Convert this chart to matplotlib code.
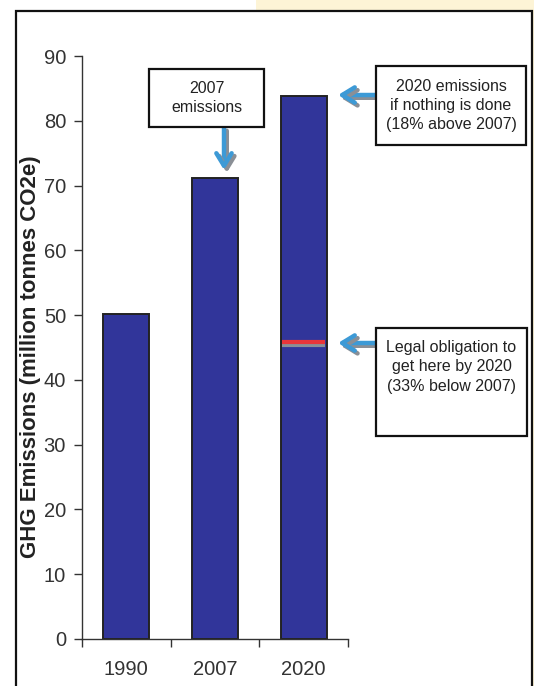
import matplotlib
matplotlib.use("Agg")
import matplotlib.pyplot as plt
import matplotlib.patheffects as pe
from matplotlib.patches import Rectangle

plt.rcParams['font.family'] = ['Liberation Sans', 'DejaVu Sans']

# Emissions data (million tonnes CO2e)
years = ["1990", "2007", "2020"]
emissions = [50.1, 71.1, 83.8]
legal_target = 45.8
yticks = [0, 10, 20, 30, 40, 50, 60, 70, 80, 90]

bar_color = "#31359a"
arrow_color = "#3d9ad6"
shadow_color = "#8a8f96"
text_color = "#222222"

fig = plt.figure(figsize=(5.34, 6.86), dpi=100)
W, H = 534, 686

def fx(px):
    return px / W

def fy(py):
    return 1 - py / H

# Background panels and outer frame
fig.patches.append(Rectangle((fx(256), fy(11)), fx(278), 11 / H, transform=fig.transFigure,
                             facecolor="#fdf4d6", edgecolor="none", zorder=-2))
fig.patches.append(Rectangle((fx(532), 0), fx(2), fy(0), transform=fig.transFigure,
                             facecolor="#fdf4d6", edgecolor="none", zorder=-2))
fig.patches.append(Rectangle((fx(16), fy(690)), fx(516), 679 / H, transform=fig.transFigure,
                             facecolor="white", edgecolor="#111111", linewidth=1.6, zorder=-1))

ax = fig.add_axes([fx(82), fy(639), fx(348 - 82), (639 - 56) / H])
ax.set_facecolor("none")

x = list(range(len(years)))
ax.bar(x, emissions, width=0.52, color=bar_color, edgecolor="#222222", linewidth=1.4, zorder=2)

# Legal obligation marker across the 2020 bar
bx = x[2]
ax.hlines(legal_target - 0.45, bx - 0.24, bx + 0.24, color="#8a8f96", linewidth=3, zorder=3)
ax.hlines(legal_target, bx - 0.24, bx + 0.24, color="#e8353a", linewidth=3, zorder=4)

ax.set_xlim(-0.5, 2.5)
ax.set_ylim(0, 90)
ax.set_yticks(yticks)
ax.set_xticks(x)
ax.set_xticklabels(years)
ax.set_xticks([-0.5, 0.5, 1.5, 2.5], minor=True)
ax.tick_params(axis="x", which="major", length=0, pad=15, labelsize=14.5, labelcolor="#333333")
ax.tick_params(axis="x", which="minor", length=6, width=1, color="#333333", direction="out")
ax.tick_params(axis="y", length=6, width=1, color="#333333", pad=5.5, labelsize=14.5, labelcolor="#333333")
for s in ["top", "right"]:
    ax.spines[s].set_visible(False)
for s in ["left", "bottom"]:
    ax.spines[s].set_color("#333333")
    ax.spines[s].set_linewidth(1)

fig.text(fx(31), fy(357), "GHG Emissions (million tonnes CO2e)", rotation=90, ha="center", va="center",
         fontsize=16, fontweight="bold", color=text_color)

def text_box(x0, y0, x1, y1, label, ty=None):
    fig.patches.append(Rectangle((fx(x0), fy(y1)), fx(x1 - x0), (y1 - y0) / H, transform=fig.transFigure,
                                 facecolor="white", edgecolor="#111111", linewidth=1.6, zorder=5))
    cy = (y0 + y1) / 2 if ty is None else ty
    fig.text(fx((x0 + x1) / 2), fy(cy), label, ha="center", va="center",
             fontsize=11.5, color=text_color, linespacing=1.35, zorder=6)

text_box(149, 69, 264, 127, "2007\nemissions")
text_box(376, 66, 526, 145, "2020 emissions\nif nothing is done\n(18% above 2007)")
text_box(376, 328, 527, 436, "Legal obligation to\nget here by 2020\n(33% below 2007)", ty=367)

arrow_fx = [pe.SimpleLineShadow(offset=(2, -2), shadow_color=shadow_color, alpha=1.0), pe.Normal()]

def arrow(xy_from, xy_to):
    ax.annotate("", xy=xy_to, xycoords=fig.transFigure, xytext=xy_from, textcoords=fig.transFigure,
                arrowprops=dict(arrowstyle="->,head_length=0.9,head_width=0.55", color=arrow_color,
                                linewidth=3.2, shrinkA=0, shrinkB=0, path_effects=arrow_fx),
                annotation_clip=False, zorder=7)

arrow((fx(224), fy(128)), (fx(224), fy(170)))
arrow((fx(376), fy(95)), (fx(338), fy(95)))
arrow((fx(376), fy(343)), (fx(338), fy(343)))

fig.savefig("out.png", dpi=100)
